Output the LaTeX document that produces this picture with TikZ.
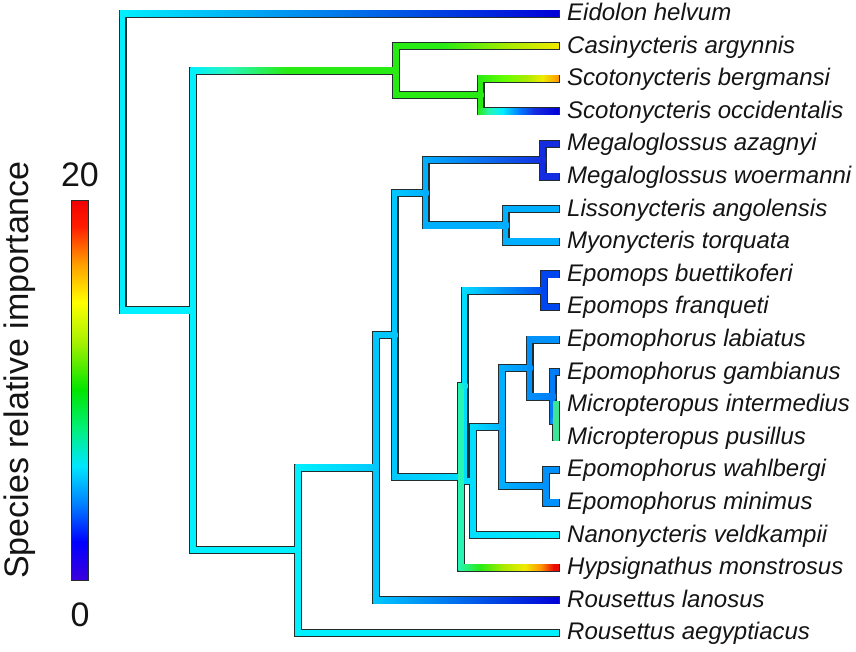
\documentclass[tikz,border=0pt]{standalone}
\usepackage{fontspec}
\setmainfont{Liberation Sans}
\usetikzlibrary{calc}

\definecolor{edge}{RGB}{35,45,45}
\definecolor{ink}{RGB}{20,20,20}
\definecolor{cCyan}{RGB}{0,240,255}
\definecolor{cCyanB}{RGB}{0,222,255}
\definecolor{cSky}{RGB}{0,200,255}
\definecolor{cAzure}{RGB}{0,175,255}
\definecolor{cBlueL}{RGB}{0,145,250}
\definecolor{cBlueK}{RGB}{0,125,248}
\definecolor{cBlueC}{RGB}{0,130,255}
\definecolor{cBlueM}{RGB}{0,70,240}
\definecolor{cBlueD}{RGB}{20,45,225}
\definecolor{cNavy}{RGB}{0,0,215}
\definecolor{cAqua}{RGB}{40,245,180}
\definecolor{cMint}{RGB}{60,230,150}
\definecolor{cGreen}{RGB}{40,235,20}
\definecolor{cLime}{RGB}{170,235,0}
\definecolor{cYellow}{RGB}{240,235,0}
\definecolor{cOrange}{RGB}{255,150,0}
\definecolor{cRed}{RGB}{235,10,0}

\pgfdeclarehorizontalshading{hyps}{100bp}{color(0bp)=(cAqua); color(25bp)=(cAqua); color(36bp)=(cGreen); color(47.5bp)=(cLime); color(58bp)=(cYellow); color(66bp)=(cOrange); color(72.5bp)=(cRed); color(100bp)=(cRed)}
\pgfdeclarehorizontalshading{bergm}{100bp}{color(0bp)=(cGreen); color(25bp)=(cGreen); color(42bp)=(green!60!yellow); color(55bp)=(cLime); color(65bp)=(cYellow); color(75bp)=(cOrange); color(100bp)=(cOrange)}
\pgfdeclarehorizontalshading{occid}{100bp}{color(0bp)=(cGreen); color(25bp)=(cGreen); color(32bp)=(cAqua); color(40bp)=(cCyan); color(50bp)=(cBlueC); color(60bp)=(cBlueD); color(75bp)=(cNavy); color(100bp)=(cNavy)}
\pgfdeclarehorizontalshading{casistem}{100bp}{color(0bp)=(cCyan); color(25bp)=(cCyan); color(35bp)=(cAqua); color(48bp)=(cGreen); color(100bp)=(cGreen)}
\pgfdeclarehorizontalshading{casitip}{100bp}{color(0bp)=(cGreen); color(25bp)=(cGreen); color(40bp)=(cGreen); color(60bp)=(cLime); color(75bp)=(cYellow); color(100bp)=(cYellow)}
\pgfdeclareverticalshading{jetbar}{100bp}{color(0bp)=(rgb,255:red,60;green,0;blue,220); color(25bp)=(rgb,255:red,60;green,0;blue,220); color(30bp)=(rgb,255:red,0;green,0;blue,255); color(35bp)=(rgb,255:red,0;green,128;blue,255); color(40bp)=(rgb,255:red,0;green,230;blue,255); color(45bp)=(rgb,255:red,0;green,240;blue,120); color(50bp)=(rgb,255:red,0;green,230;blue,0); color(56bp)=(rgb,255:red,160;green,240;blue,0); color(61.5bp)=(rgb,255:red,255;green,255;blue,0); color(66.5bp)=(rgb,255:red,255;green,160;blue,0); color(71.5bp)=(rgb,255:red,255;green,30;blue,0); color(75bp)=(rgb,255:red,240;green,0;blue,0); color(100bp)=(rgb,255:red,240;green,0;blue,0)}

% coloured branch: parent, child, colour of the vertical, shading of the horizontal
\newcommand{\br}[4]{%
    \draw[fillin, #3] (#1) -- (#1 |- #2);
    \shade[#4] ($(#1 |- #2)+(-2.75,-2.75)$) rectangle ($(#2)+(2.75,2.75)$);
}

\begin{document}
\begin{tikzpicture}[x=1pt, y=-1pt]

    \tikzstyle{rim}=[line width=8pt, draw=edge, line cap=rect, line join=miter];
    \tikzstyle{fillin}=[line width=5.5pt, line cap=rect];
    \tikzstyle{tip}=[anchor=base west, inner sep=0pt, font=\fontsize{24}{28}\selectfont\itshape, text=ink];
    \tikzstyle{big}=[inner sep=0pt, font=\fontsize{34}{40}\selectfont, text=ink];

    \useasboundingbox (0,0) rectangle (856,651);

    \foreach \i in {1,...,20}
        \coordinate (t\i) at (556, {13.5+32.6*(\i-1)});

    \coordinate (root) at (122.5,162);
    \coordinate (n2) at (193,310.4);
    \coordinate (nCasi) at (396,70.55);
    \coordinate (nScoto) at (480.5,95);
    \coordinate (n3) at (298,550.2);
    \coordinate (nA) at (376,467.55);
    \coordinate (nC) at (394.5,334.8);
    \coordinate (nML) at (425.5,192.8);
    \coordinate (nMeg) at (542.5,160.2);
    \coordinate (nLis) at (505.5,225.4);
    \coordinate (nD) at (461,476.8);
    \coordinate (nD2) at (464.5,385.85);
    \coordinate (nEpops) at (544,290.6);
    \coordinate (nK) at (473,481.1);
    \coordinate (nF) at (502,427.1);
    \coordinate (nG) at (529.5,368);
    \coordinate (nH) at (552.5,396.55);
    \coordinate (nI) at (556,421);
    \coordinate (nJ) at (546,486.2);

    % outline
    \foreach \p/\c in {root/t1, root/n2, n2/nCasi, n2/n3, nCasi/t2, nCasi/nScoto,
        nScoto/t3, nScoto/t4, n3/nA, n3/t20, nA/nC, nA/t19, nC/nML, nC/nD,
        nML/nMeg, nML/nLis, nMeg/t5, nMeg/t6, nLis/t7, nLis/t8, nD/nD2, nD/t18,
        nD2/nEpops, nD2/nK, nEpops/t9, nEpops/t10, nK/nF, nK/t17, nF/nG, nF/nJ,
        nG/t11, nG/nH, nH/t12, nH/nI, nI/t13, nI/t14, nJ/t15, nJ/t16}
        \draw[rim] (\p) |- (\c);

    % colours
    \br{root}{t1}{cCyan}{left color=cCyan, middle color=cBlueC, right color=cNavy}
    \br{root}{n2}{cCyan}{left color=cCyan, right color=cCyan}
    \br{n2}{nCasi}{cCyan}{shading=casistem}
    \br{n2}{n3}{cCyan}{left color=cCyan, right color=cCyan}
    \br{nCasi}{t2}{cGreen}{shading=casitip}
    \br{nCasi}{nScoto}{cGreen}{left color=cGreen, right color=cGreen}
    \br{nScoto}{t3}{cGreen}{shading=bergm}
    \br{nScoto}{t4}{cGreen}{shading=occid}
    \br{n3}{nA}{cCyan}{left color=cCyan, right color=cSky}
    \br{n3}{t20}{cCyan}{left color=cCyan, right color=cCyan}
    \br{nA}{nC}{cSky}{left color=cSky, right color=cSky}
    \br{nA}{t19}{cSky}{left color=cSky, right color=cNavy}
    \br{nC}{nML}{cSky}{left color=cSky, right color=cAzure}
    \br{nC}{nD}{cSky}{left color=cSky, right color=cCyanB}
    \br{nML}{nMeg}{cAzure}{left color=cAzure, right color=cBlueD}
    \br{nML}{nLis}{cAzure}{left color=cAzure, right color=cAzure}
    \br{nMeg}{t5}{cBlueD}{left color=cBlueD, right color=cBlueD}
    \br{nMeg}{t6}{cBlueD}{left color=cBlueD, right color=cBlueD}
    \br{nLis}{t7}{cAzure}{left color=cAzure, right color=cAzure}
    \br{nLis}{t8}{cAzure}{left color=cAzure, right color=cAzure}
    \br{nD2}{nEpops}{cCyanB}{left color=cCyanB, middle color=cCyan, right color=cBlueM}
    \br{nD2}{nK}{cCyanB}{left color=cCyanB, right color=cCyanB}
    \br{nEpops}{t9}{cBlueM}{left color=cBlueM, right color=cBlueM}
    \br{nEpops}{t10}{cBlueM}{left color=cBlueM, right color=cBlueM}
    \br{nK}{t17}{cCyanB}{left color=cCyanB, right color=cCyan}
    \br{nK}{nF}{cCyanB}{left color=cCyanB, right color=cAzure}
    \br{nF}{nG}{cAzure}{left color=cAzure, right color=cBlueL}
    \br{nF}{nJ}{cAzure}{left color=cAzure, right color=cBlueL}
    \br{nG}{t11}{cBlueL}{left color=cBlueL, right color=cBlueL}
    \br{nG}{nH}{cBlueL}{left color=cBlueL, right color=cBlueK}
    \br{nH}{t12}{cBlueK}{left color=cBlueK, right color=cBlueK}
    \br{nH}{nI}{cBlueK}{left color=cBlueK, right color=cMint}
    \br{nI}{t13}{cMint}{left color=cMint, right color=cMint}
    \br{nI}{t14}{cMint}{left color=cMint, right color=cMint}
    \br{nJ}{t15}{cBlueL}{left color=cBlueL, right color=cBlueL}
    \br{nJ}{t16}{cBlueL}{left color=cBlueL, right color=cBlueL}
    \br{nD}{nD2}{cAqua}{left color=cAqua, right color=cCyanB}
    \br{nD}{t18}{cAqua}{shading=hyps}

    % species
    \foreach \i/\s in {1/Eidolon helvum, 2/Casinycteris argynnis, 3/Scotonycteris bergmansi,
        4/Scotonycteris occidentalis, 5/Megaloglossus azagnyi, 6/Megaloglossus woermanni,
        7/Lissonycteris angolensis, 8/Myonycteris torquata, 9/Epomops buettikoferi,
        10/Epomops franqueti, 11/Epomophorus labiatus, 12/Epomophorus gambianus,
        13/Micropteropus intermedius, 14/Micropteropus pusillus, 15/Epomophorus wahlbergi,
        16/Epomophorus minimus, 17/Nanonycteris veldkampii, 18/Hypsignathus monstrosus,
        19/Rousettus lanosus, 20/Rousettus aegyptiacus}
        \node[tip] (l\i) at ($(t\i)+(11,7)$) {\s};

    % colour scale
    \node[shading=jetbar, draw=edge, line width=0.8pt, minimum width=17pt, minimum height=380pt, inner sep=0pt] (bar) at (79.5,390) {};
    \node[big, anchor=base] (vmax) at (80,186) {20};
    \node[big, anchor=base] (vmin) at (80,626) {0};
    \node[big, rotate=90, anchor=base] (axis) at (28,370) {Species relative importance};

\end{tikzpicture}
\end{document}
